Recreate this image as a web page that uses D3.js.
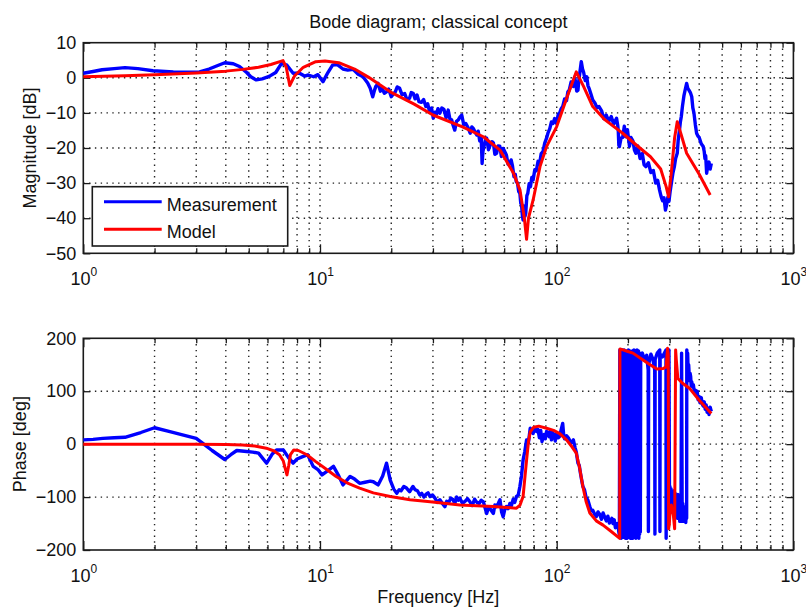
<!DOCTYPE html>
<html>
  <head>
    <meta charset="utf-8">
    <title>Bode diagram; classical concept</title>
    <script src="https://cdn.jsdelivr.net/npm/d3@7"></script>
    <style>
      body { margin: 0; background: #fff; }
      #chart { display: block; font-family: "Liberation Sans", Arial, Helvetica, sans-serif; }
      .grid line { stroke: #222; stroke-width: 1.4; stroke-dasharray: 1.4 4.4; }
      .box { fill: none; stroke: #1a1a1a; stroke-width: 1.6; }
      .axis line { stroke: #1a1a1a; stroke-width: 1.3; }
      .axis text { font-family: "Liberation Sans", Arial, sans-serif; font-size: 18px; fill: #111; }
      .label { font-size: 18px; fill: #111; }
      .meas { fill: none; stroke: #0000ff; stroke-width: 3.4; stroke-linejoin: round; }
      .model { fill: none; stroke: #ff0000; stroke-width: 3; stroke-linejoin: round; }
    </style>
  </head>

  <body>
    <svg id="chart" width="806" height="610"></svg>

    <script>
      // tick values
      const decades = [1, 10, 100, 1000];
      const magTicks = [-50, -40, -30, -20, -10, 0, 10];
      const phaseTicks = [-200, -100, 0, 100, 200];
      const legendNames = ["Measurement", "Model"];

      // magnitude [Hz, dB]
      const magMeasurement = [
        [1, 1.3], [1.1, 1.8], [1.2, 2.3], [1.35, 2.6], [1.5, 2.9], [1.7, 2.6], [1.97, 2.0],
        [2.4, 1.7], [2.8, 1.6], [3.1, 1.7], [3.4, 2.5], [3.7, 3.5], [3.96, 4.3], [4.3, 4.0],
        [4.57, 3.2], [4.9, 1.5], [5.1, 0.3], [5.38, -0.6], [5.7, -0.3], [6.1, 0.4], [6.5, 1.5],
        [6.88, 4.1], [7.25, 3.6], [7.7, 1.3], [8.2, 1.3], [8.6, 0.5], [8.93, 0.8], [9.4, 0.3],
        [9.8, 0.9], [10.3, -1.1], [10.8, 1.5], [11.3, 3.6], [11.8, 3.8], [12.5, 2.5], [13.1, 2.2],
        [13.8, 2.4], [14.5, 1.0], [15.2, 0.3], [15.9, -1.5], [16.3, -3], [16.7, -5.4], [17.0, -3.5],
        [17.2, -2.5], [17.6, -1.6], [18.0, -3.8], [18.3, -3.0], [18.7, -4.4], [19.1, -4], [19.5, -3.2],
        [20, -5.4], [20.4, -4.6], [20.8, -4.0], [21.2, -2.6], [21.7, -3], [22.2, -4.8], [22.8, -4.5],
        [23.3, -6.2], [23.9, -5.8], [24.3, -4.2], [24.8, -4.5], [25.2, -6.0], [25.7, -4.9],
        [26.2, -6.8], [26.8, -7], [27.4, -6.2], [28, -8.2], [28.5, -7.4], [29, -9.5], [29.6, -8.6],
        [30.1, -11.5], [30.6, -9.8], [31, -10.5], [31.5, -8.8], [32.1, -10.1], [32.7, -8.6],
        [33.4, -9], [34.1, -11.4], [34.8, -9.2], [35.4, -11.8], [36, -12], [36.5, -13.5],
        [37.1, -14.9], [37.7, -12.4], [38.4, -12], [39, -11.2], [39.7, -10.6], [40.5, -13.4],
        [41.3, -13], [42.2, -14.2], [43.1, -15.8], [43.8, -14], [44.5, -14.5], [45.3, -15.6],
        [46, -16.3], [46.6, -15.2], [47.3, -18], [48, -17.2], [48.4, -24.4], [48.8, -21], [49.5, -19],
        [50.0, -17.6], [50.6, -17.2], [51.5, -20.5], [52.5, -19], [53.3, -18.2], [54, -18.5],
        [54.8, -21.8], [55.7, -21.5], [56.6, -19.4], [57.5, -19.5], [58.4, -22.4], [59.4, -20.1],
        [60.3, -21], [61.3, -22], [62.3, -24.6], [63.4, -24.4], [64.2, -23.4], [65, -25],
        [66, -28.2], [66.8, -27.5], [67.5, -29.6], [68.3, -30], [69.1, -32.4], [69.9, -32.9],
        [70.5, -35.8], [71, -36], [71.6, -39.2], [72.1, -40.5], [72.6, -36.5], [73, -37],
        [73.5, -39.4], [74, -38.6], [74.8, -33.6], [75.5, -32.9], [76.5, -30.2], [77.5, -31],
        [78.5, -28.4], [79.5, -29.1], [80.8, -26.2], [82, -26.5], [83.4, -23.8], [84.7, -24.4],
        [86, -21.6], [87.5, -21], [89, -18.6], [90.6, -17.2], [92, -15.6], [93.5, -14.5],
        [95, -12.6], [96.5, -13], [98, -11.6], [99.8, -13], [101.5, -10.4], [103, -10], [104.5, -8.8],
        [106, -8.2], [108, -6.0], [110, -6.5], [111.5, -4.0], [113, -3.5], [115, -1.2], [117.6, -2.5],
        [119, 0.2], [120, -1], [121.5, -3.8], [123, -3.5], [124, -0.8], [125, 1], [126, 2.8],
        [127, 4.6], [128.5, 2.6], [130, 1.5], [132, -0.8], [134, 0.3], [135.5, -2.2], [137, -3],
        [139.5, -4.6], [142, -6.3], [145, -7.2], [148, -8.5], [151, -8.2], [155, -9.5], [158, -11.6],
        [162, -10.6], [166, -12.4], [170, -11], [174, -13.2], [179, -11.5], [181, -13.5], [182, -15],
        [183, -19.2], [184, -19.6], [187, -17.2], [190, -17], [193, -13.8], [196, -16.8], [199, -14.8],
        [203, -19.5], [206, -17], [210, -18], [213, -20.6], [216, -21.5], [220, -19.4], [225, -23],
        [230, -21.6], [234, -24.8], [238, -25.3], [244, -24.2], [250, -27], [256, -26.4], [262, -30],
        [267, -29.2], [272, -32], [276, -33.8], [280, -35], [284, -34.2], [288, -37.7], [291, -36.4],
        [295, -34], [298, -35.2], [302, -32], [306, -29.5], [310, -27], [314, -25.4], [318, -23],
        [323, -21.5], [326, -17.8], [330, -15], [333, -12.6], [336, -11.1], [340, -8], [345, -5],
        [349, -3.4], [354, -1.6], [358, -3.0], [362, -3.5], [367, -4.2], [372, -5.4], [376, -8.6],
        [380, -10], [385, -13.2], [390, -15.8], [395, -16.6], [400, -17], [408, -18.8], [416, -19.6],
        [420, -21], [423, -23], [426, -22.2], [430, -27.2], [435, -25], [440, -24], [445, -26],
        [450, -24.4]
      ];

      const magModel = [
        [1, 0.3], [1.5, 0.6], [2, 0.9], [3, 1.4], [4, 1.9], [4.73, 2.4], [5.5, 3.0], [6.2, 3.8],
        [6.98, 4.9], [7.2, 3], [7.45, -2.2], [7.8, 0.5], [8.5, 3.0], [9.6, 4.6], [10.5, 4.8],
        [12, 4.3], [14, 2.5], [16, 0.2], [19.8, -4], [25, -7.5], [30, -10.6], [40, -14],
        [49, -16.8], [57.6, -20.6], [65.7, -27.2], [70, -32], [73, -40], [74.6, -46], [76, -40],
        [79.5, -34.8], [85, -25.3], [90.6, -19.6], [100, -13.9], [110, -6], [121, 1.7], [130, -2.5],
        [142, -8.2], [160, -12], [190, -15.8], [220, -19.5], [249, -22.5], [275, -26], [290, -31],
        [297, -33.9], [305, -27], [315, -17], [323, -12.5], [335, -16], [354, -21.5], [400, -27.5],
        [445, -33.4]
      ];

      // phase [Hz, deg]
      const phaseMeasurement = [
        [1, 8], [1.1, 9], [1.21, 11], [1.35, 12], [1.5, 13], [1.75, 22], [2.0, 31], [2.3, 24],
        [2.6, 18], [3.0, 11], [3.2, 1.6], [3.5, -12], [3.96, -29], [4.2, -20], [4.45, -12],
        [4.9, -14], [5.2, -15], [5.5, -17], [5.95, -36], [6.3, -18], [6.55, -11], [7.0, -11],
        [7.35, -25], [7.7, -36], [8.0, -28], [8.4, -24], [8.87, -20], [9.36, -42], [9.8, -48],
        [10.2, -58], [10.8, -50], [11.4, -42], [12.0, -60], [12.5, -77], [13.0, -68], [13.4, -61],
        [14.0, -66], [14.7, -74], [15.5, -72], [16.3, -70], [16.8, -71], [17.6, -77], [18.4, -60],
        [19.1, -36], [19.8, -68], [20.5, -85], [21.1, -93], [21.6, -86], [22.0, -88], [22.6, -80],
        [23.2, -83], [23.9, -90], [24.7, -80], [25.2, -86], [25.8, -88], [26.4, -96], [26.9, -93],
        [27.5, -100], [28.0, -95], [28.6, -92], [29.2, -99], [29.9, -96], [30.6, -102],
        [31.3, -110], [32.1, -105], [32.9, -112], [33.7, -118], [34.3, -108], [35.0, -110],
        [35.7, -102], [36.5, -105], [37.1, -112], [37.8, -100], [38.4, -106], [39, -102],
        [40, -112], [41, -108], [42, -103], [43, -109], [44, -116], [45, -104], [46, -110],
        [47, -112], [48, -106], [49, -109], [49.8, -120], [50.6, -131], [51.3, -122], [52, -120],
        [53, -126], [54, -131], [54.8, -115], [55.7, -118], [56.6, -112], [57.6, -105], [58.5, -128],
        [59.4, -137], [60.3, -124], [61.3, -118], [62.3, -122], [63.4, -112], [64.4, -116],
        [65.5, -104], [66.5, -110], [67.6, -99], [68.8, -96], [69.9, -80], [71, -60],
        [72.1, -30], [73.3, -14], [74.6, 8], [75.9, 2], [77.3, 30], [78.4, 26], [79.5, 20],
        [80.8, 31], [82.2, 24], [83.3, 28], [84.5, 12], [85.6, 26], [86.7, 5], [87.6, 14],
        [88.5, 18], [89.5, 10], [90.6, 24], [91.8, 20], [93, 14], [94, 26], [95, 8], [96.2, 22],
        [97.5, 17], [98.6, 6], [99.8, 20], [101.5, 12], [103, 15], [104.5, 28], [106, 39],
        [107, 18], [108, 10], [110, 16], [112, 12], [115, 2], [117.6, 8], [119.5, -6], [121, -15],
        [123, -36], [124.5, -40], [126, -55], [127.5, -68], [129, -80], [131, -86], [133, -100],
        [135.5, -106], [138, -118], [140, -126], [142, -125], [144.5, -132], [147, -137],
        [149.5, -128], [152, -133], [154.5, -142], [157, -130], [159.5, -138], [162, -145],
        [164.5, -136], [167, -149], [169, -146], [171, -140], [173, -150], [175, -143], [177, -158],
        [178, -152], [180, -150], [182, -156], [183, -166], [184, -172], [184.8, 178], [185.6, -176],
        [186.4, 176], [187.2, -178], [188, 174], [188.8, -172], [189.6, 178], [190.4, -176],
        [191.2, 172], [192, -170], [192.8, 178], [193.6, -176], [194.4, 174], [195.2, -178],
        [196, 170], [196.8, -174], [197.6, 176], [198.4, -178], [199.2, 172], [200, -172],
        [200.8, 178], [201.6, -176], [202.4, 170], [203.2, -168], [204, 176], [204.8, -178],
        [205.6, 172], [206.4, -174], [207.2, 168], [208, -170], [208.8, 176], [209.6, -178],
        [210.4, 172], [211.2, -172], [212, 178], [212.8, -176], [213.6, 170], [214.4, -172],
        [215.2, 176], [216, -178], [216.8, 172], [217.6, -170], [218.4, 178], [219.2, -176],
        [220, 170], [220.8, -174], [221.6, 176], [222.4, -178], [223.2, 168], [224, -170],
        [224.8, 172], [225.6, -166], [226.4, 165], [230, 172], [235, 160], [240, 168], [243.5, 140],
        [244, -165], [244.5, 150], [250, 170], [255, 160], [259.5, 140], [260, -170], [260.5, 160],
        [266, 172], [272.5, 178], [273, -165], [273.5, 170], [280, 165], [289.5, 178], [290, -178],
        [290.5, 176], [294, 160], [298, 178], [299.5, -95], [301, -80], [302.5, -128], [304, -84],
        [305.5, -122], [307, -90], [308.5, -128], [310, -96], [311.5, -126], [313, -88],
        [314.5, -118], [316, -92], [317.5, -120], [319, -100], [320.5, -132], [322, -96],
        [323.5, -140], [325, -95], [327, -138], [329, -104], [331, -146], [333, -110], [335, -140],
        [337, 172], [339, -146], [341, -112], [343, -140], [345, -118], [347, -146], [349, -122],
        [351, -148], [352.5, -125], [354, -140], [354.5, 178], [356, 160], [357.5, 172], [359, 140],
        [361, 150], [364, 120], [366, 134], [368, 128], [370, 110], [372, 118], [375, 108],
        [378, 112], [382, 96], [385, 102], [389, 92], [392, 100], [396, 84], [400, 90],
        [404, 78], [408, 88], [412, 76], [416, 72], [420, 80], [424, 66], [428, 74], [432, 60],
        [436, 68], [440, 56], [445, 70], [450, 62]
      ];

      const phaseModel = [
        [1, 0], [2, 0], [3, -0.3], [4, -0.8], [4.7, -1.5], [5.3, -3.5], [5.93, -7.6], [6.4, -13],
        [6.74, -20], [7.0, -32], [7.15, -48], [7.25, -58], [7.38, -40], [7.5, -20], [7.75, -11],
        [8.1, -12], [8.8, -20], [9.6, -33], [10.6, -47], [11.7, -61], [13, -73], [14.7, -83],
        [16.8, -92], [19.8, -99], [24, -105], [29.2, -109], [39, -115], [54, -118], [67.6, -121],
        [70, -115], [72.1, -99], [73.5, -60], [74.6, -30], [76, 5], [77.3, 23], [80, 32], [84, 34],
        [90.6, 30], [97, 26], [103, 20], [110, 8], [116, -5], [121, -17], [125, -45], [129, -80],
        [133, -108], [138, -130], [147, -145], [157, -153], [170, -165], [184.6, -178], [185, 180],
        [200, 175], [210, 172], [230, 160], [248, 150], [265, 142], [282, 143], [290, 146],
        [294, 181], [296, 170], [297, -160], [299, -152], [302, -118], [305, -115], [308, -125],
        [311, -134], [315, -160], [318, 178], [320, 160], [325, 124], [340, 115], [365, 105],
        [400, 83], [450, 58]
      ];

      // layout
      chart = d3.select("#chart");
      margin = { left: 83.3, right: 793.4 };
      panels = [
        { top: 42.7, bottom: 253.3, domain: [-50, 10], ticks: magTicks,
          meas: magMeasurement, model: magModel, label: "Magnitude [dB]", labelX: 36, legend: true },
        { top: 338.3, bottom: 550, domain: [-200, 200], ticks: phaseTicks,
          meas: phaseMeasurement, model: phaseModel, label: "Phase [deg]", labelX: 26, legend: false }
      ];

      x = d3.scaleLog().domain([1, 1000]).range([margin.left, margin.right]);
      xTicks = x.ticks();
      isDecade = d => decades.includes(d);

      panels.forEach(drawPanel);

      // title and x label
      chart.append("text")
        .attr("class", "label")
        .attr("x", (margin.left + margin.right) / 2)
        .attr("y", 28)
        .attr("text-anchor", "middle")
        .text("Bode diagram; classical concept");

      chart.append("text")
        .attr("class", "label")
        .attr("x", (margin.left + margin.right) / 2)
        .attr("y", 603)
        .attr("text-anchor", "middle")
        .text("Frequency [Hz]");

      function drawPanel(p) {
        const y = d3.scaleLinear().domain(p.domain).range([p.bottom, p.top]);
        const g = chart.append("g");

        // dotted grid
        const grid = g.append("g").attr("class", "grid");
        grid.selectAll(".vx")
          .data(xTicks.filter(d => d > 1 && d < 1000))
          .join("line")
            .attr("x1", x).attr("x2", x)
            .attr("y1", p.top).attr("y2", p.bottom);
        grid.selectAll(".hy")
          .data(p.ticks.slice(1, -1))
          .join("line")
            .attr("x1", margin.left).attr("x2", margin.right)
            .attr("y1", y).attr("y2", y);

        // axes, ticks pointing inward
        const bottomAxis = g.append("g")
          .attr("class", "axis")
          .attr("transform", "translate(0," + p.bottom + ")")
          .call(d3.axisBottom(x).tickValues(xTicks).tickSizeOuter(0)
            .tickSizeInner(-5).tickFormat(d => isDecade(d) ? "10" : ""));
        bottomAxis.selectAll(".tick line").attr("y2", d => isDecade(d) ? -9 : -5);
        bottomAxis.selectAll(".tick text")
          .attr("y", 32).attr("dy", 0)
          .filter(isDecade)
          .append("tspan")
            .attr("dy", -9)
            .style("font-size", "12px")
            .text(d => Math.round(Math.log10(d)));

        const topAxis = g.append("g")
          .attr("class", "axis")
          .attr("transform", "translate(0," + p.top + ")")
          .call(d3.axisTop(x).tickValues(xTicks).tickSizeOuter(0).tickSizeInner(-5).tickFormat(""));
        topAxis.selectAll(".tick line").attr("y2", d => isDecade(d) ? 9 : 5);

        g.append("g")
          .attr("class", "axis")
          .attr("transform", "translate(" + margin.left + ",0)")
          .call(d3.axisLeft(y).tickValues(p.ticks).tickSizeOuter(0).tickSizeInner(-7).tickPadding(7));

        g.append("g")
          .attr("class", "axis")
          .attr("transform", "translate(" + margin.right + ",0)")
          .call(d3.axisRight(y).tickValues(p.ticks).tickSizeOuter(0).tickSizeInner(-7).tickFormat(""));

        g.selectAll(".axis .domain").remove();
        g.selectAll(".axis").attr("font-family", null).attr("font-size", null);

        g.append("rect")
          .attr("class", "box")
          .attr("x", margin.left)
          .attr("y", p.top)
          .attr("width", margin.right - margin.left)
          .attr("height", p.bottom - p.top);

        // curves
        const line = d3.line()
          .x(d => x(d[0]))
          .y(d => y(d[1]));

        g.append("path").attr("class", "meas").attr("d", line(p.meas));
        g.append("path").attr("class", "model").attr("d", line(p.model));

        // y label
        g.append("text")
          .attr("class", "label")
          .attr("text-anchor", "middle")
          .attr("transform", "translate(" + p.labelX + "," + (p.top + p.bottom) / 2 + ") rotate(-90)")
          .text(p.label);

        if (p.legend) drawLegend(g);
      }

      function drawLegend(g) {
        const legend = g.append("g").attr("transform", "translate(92.3,186.7)");
        legend.append("rect")
          .attr("width", 195.4)
          .attr("height", 59.3)
          .attr("fill", "#fff")
          .attr("stroke", "#1a1a1a")
          .attr("stroke-width", 1.6);

        const items = legend.selectAll(".item")
          .data(legendNames)
          .join("g")
            .attr("transform", (d, i) => "translate(0," + (15 + i * 27.6) + ")");
        items.append("line")
          .attr("x1", 11.7).attr("x2", 69.4)
          .attr("stroke", (d, i) => i ? "#ff0000" : "#0000ff")
          .attr("stroke-width", 3);
        items.append("text")
          .attr("class", "label")
          .attr("x", 74.4)
          .attr("y", 9)
          .text(d => d);
      }
    </script>
  </body>
</html>
